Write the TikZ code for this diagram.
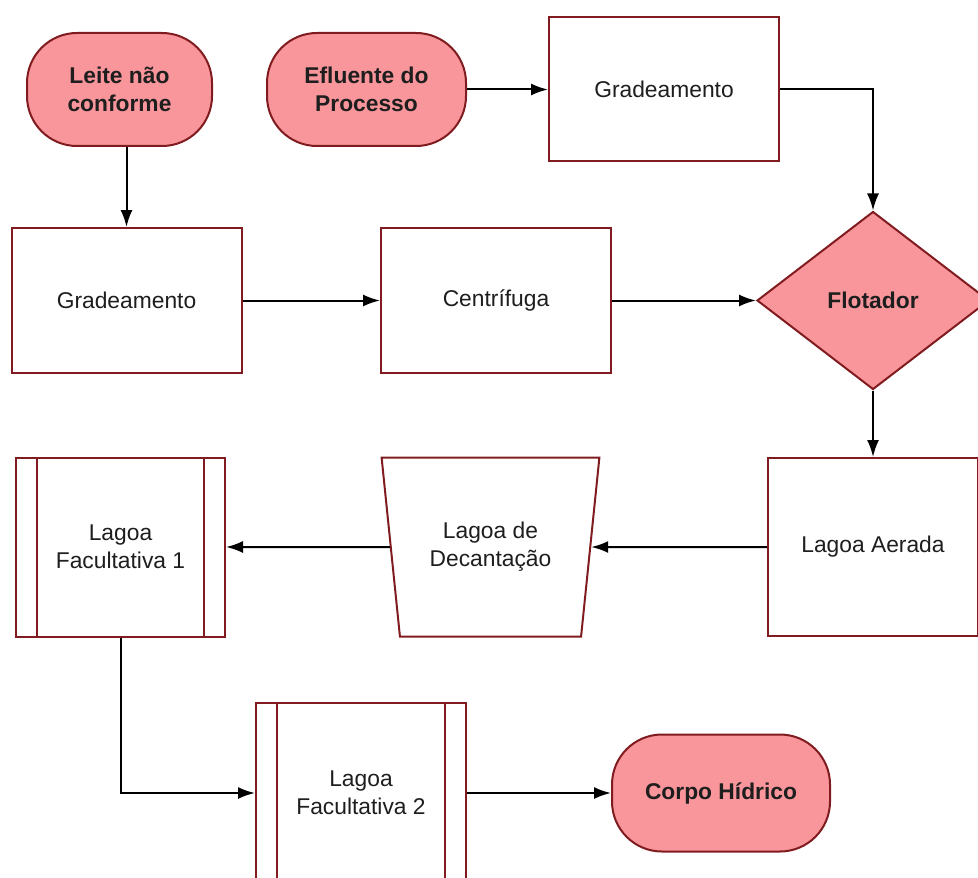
\documentclass[tikz,border=0pt]{standalone}
\usepackage{fontspec}
\setmainfont{Liberation Sans}
\usepackage{xcolor}
\usetikzlibrary{shapes.geometric,arrows.meta}
\definecolor{boxfill}{RGB}{248,150,155}
\definecolor{boxline}{RGB}{128,28,32}
\definecolor{ink}{RGB}{30,30,30}
\tikzset{
  terminal/.style={ % start / end of the flow
    draw=boxline, line width=1pt, fill=boxfill,
    rectangle, rounded corners=25pt,
    minimum width=92.5pt, minimum height=56.5pt,
    inner sep=2pt, text=ink, align=center,
    font=\fontsize{11.4}{14}\selectfont\bfseries
  },
  process/.style={ % plain treatment step
    draw=boxline, line width=1pt, fill=white,
    rectangle, minimum width=115pt, minimum height=72.5pt,
    inner sep=2pt, text=ink, align=center,
    font=\fontsize{11.4}{14}\selectfont
  },
  decision/.style={ % flotation unit
    draw=boxline, line width=1pt, fill=boxfill,
    diamond, minimum width=116pt, minimum height=89pt,
    inner sep=0pt, text=ink,
    font=\fontsize{11.4}{14}\selectfont\bfseries
  },
  settler/.style={ % decantation pond
    draw=boxline, line width=1pt, fill=white,
    trapezium, shape border rotate=180,
    trapezium left angle=76, trapezium right angle=76,
    trapezium stretches=true,
    minimum width=109.5pt, minimum height=89.5pt,
    inner sep=0pt, text=ink, align=center,
    font=\fontsize{11.4}{14}\selectfont
  },
  pond/.style={ % facultative pond, box with side bars
    draw=boxline, line width=1pt, fill=white,
    rectangle, minimum width=104.5pt, minimum height=89.5pt,
    inner sep=2pt, text=ink, align=center,
    font=\fontsize{11.4}{14}\selectfont,
    path picture = {
      \draw[boxline, line width=1pt]
      ([xshift=10.5pt]path picture bounding box.north west) --
      ([xshift=10.5pt]path picture bounding box.south west)
      ([xshift=-10.5pt]path picture bounding box.north east) --
      ([xshift=-10.5pt]path picture bounding box.south east);
    }
  },
  flow/.style={-{Latex[length=8.5pt,width=6pt]}, line width=1pt, black}
}
\begin{document}
\begin{tikzpicture}[x=0.5pt, y=-0.5pt]

  \useasboundingbox (0,0) rectangle (978,877);

  % sources
  \node[terminal] (leite) at (119.5,89.5) {Leite não\\conforme};
  \node[terminal, minimum width=99.5pt] (efluente) at (366.5,89.5) {Efluente do\\Processo};

  % first line
  \node[process, minimum height=72pt] (grad_top) at (664,89) {Gradeamento};
  \node[decision] (flotador) at (873,300.5) {Flotador};
  \node[process] (grad_left) at (126.5,300.5) {Gradeamento};
  \node[process] (centrifuga) at (496,300.5) {Centrífuga};

  % ponds
  \node[process, minimum width=105pt, minimum height=89pt] (aerada) at (873,547) {Lagoa Aerada};
  \node[settler] (decant) at (490.5,547) {Lagoa de\\Decantação};
  \node[pond] (fac_one) at (120.5,547) {Lagoa\\Facultativa 1};
  \node[pond, minimum width=105pt, minimum height=90pt] (fac_two) at (361,793) {Lagoa\\Facultativa 2};
  \node[terminal, minimum width=109pt, minimum height=58.5pt] (corpo) at (721,793) {Corpo Hídrico};

  \draw[flow] (leite.south -| grad_left.north) -- (grad_left.north);
  \draw[flow] (efluente.east) -- (efluente.east -| grad_top.west);
  \draw[flow] (grad_top.east) -| (flotador.north);
  \draw[flow] (grad_left) -- (centrifuga);
  \draw[flow] (centrifuga) -- (flotador);
  \draw[flow] (flotador.south) -- (aerada.north);
  \draw[flow] (aerada) -- (decant);
  \draw[flow] (decant) -- (fac_one);
  \draw[flow] (fac_one.south) |- (fac_two.west);
  \draw[flow] (fac_two) -- (corpo);
\end{tikzpicture}
\end{document}
